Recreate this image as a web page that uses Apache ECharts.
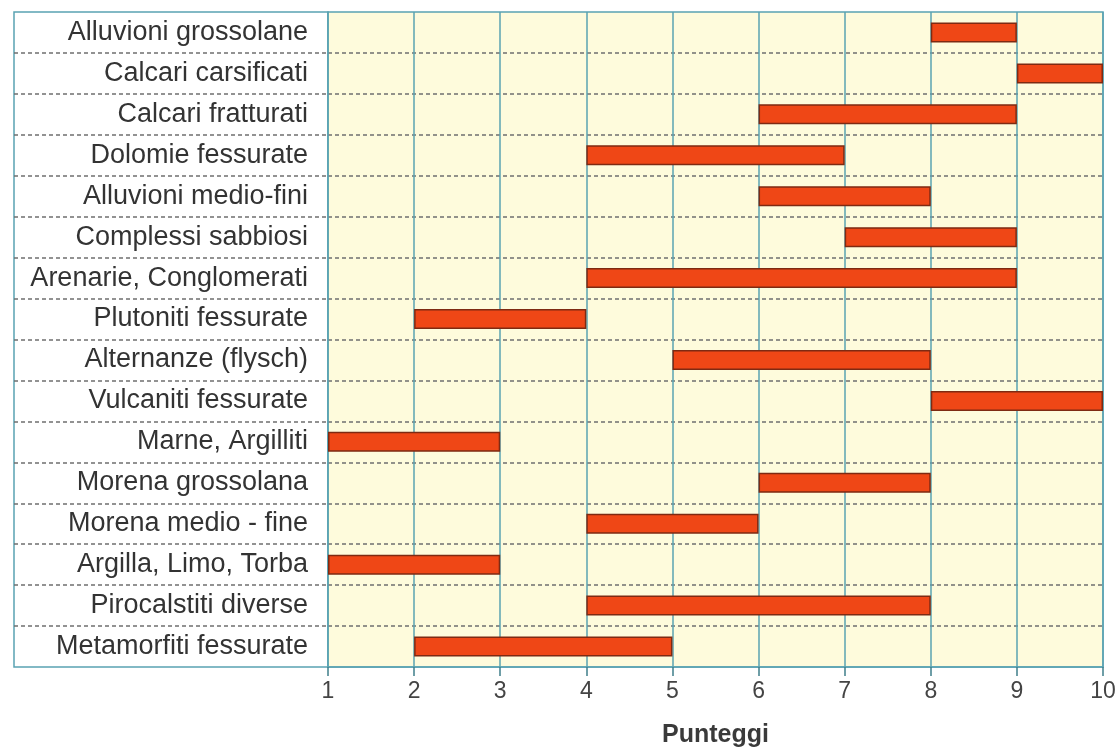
<!DOCTYPE html>
<html>
<head>
<meta charset="utf-8">
<script src="https://cdn.jsdelivr.net/npm/echarts@6/dist/echarts.min.js"></script>
<style>html,body{margin:0;padding:0;background:#fff;}#c{width:1120px;height:749px;}</style>
</head>
<body>
<div id="c"></div>
<script>
const categories = [
  "Alluvioni grossolane","Calcari carsificati","Calcari fratturati","Dolomie fessurate",
  "Alluvioni medio-fini","Complessi sabbiosi","Arenarie, Conglomerati","Plutoniti fessurate",
  "Alternanze (flysch)","Vulcaniti fessurate","Marne, Argilliti","Morena grossolana",
  "Morena medio - fine","Argilla, Limo, Torba","Pirocalstiti diverse","Metamorfiti fessurate"
];
const rangeStart = [8, 9, 6, 4, 6, 7, 4, 2, 5, 8, 1, 6, 4, 1, 4, 2];
const rangeEnd   = [9,10, 9, 7, 8, 9, 9, 4, 8,10, 3, 8, 6, 3, 8, 5];
const xTicks = [1,2,3,4,5,6,7,8,9,10];
const xTitle = "Punteggi";

const teal = '#5aa3b2';
const dash = {color:'#6f6f6f', width:1.5, type:[4,3]};
const chart = echarts.init(document.getElementById('c'));
chart.setOption({
  animation:false,
  grid:[
    {left:14, width:314, top:12, height:655, show:true, outerBoundsMode:'none', containLabel:false,
     backgroundColor:'#ffffff', borderColor:teal, borderWidth:1.5},
    {left:328, width:775, top:12, height:655, show:true, outerBoundsMode:'none', containLabel:false,
     backgroundColor:'#fefbdc', borderColor:teal, borderWidth:1.5}
  ],
  xAxis:[
    {gridIndex:0, type:'value', show:false, min:0, max:1},
    {gridIndex:1, type:'value', min:xTicks[0], max:xTicks[xTicks.length-1], interval:1,
     name:xTitle, nameLocation:'middle', nameGap:56,
     nameTextStyle:{fontFamily:'Liberation Sans', fontWeight:'bold', fontSize:25, color:'#3a3a3a'},
     axisLine:{show:true, lineStyle:{color:teal, width:1.5}},
     axisTick:{show:true, length:9, lineStyle:{color:'#3f7f8a', width:1.5}},
     axisLabel:{margin:13, fontFamily:'Liberation Sans', fontSize:23, color:'#444'},
     splitLine:{show:true, showMinLine:true, showMaxLine:true, lineStyle:{color:teal, width:1.5}}}
  ],
  yAxis:[
    {gridIndex:0, type:'category', data:categories, inverse:true,
     axisLine:{show:false}, axisTick:{show:false}, axisLabel:{show:false},
     splitLine:{show:true, showMinLine:false, showMaxLine:false, lineStyle:dash}},
    {gridIndex:1, type:'category', data:categories, inverse:true,
     axisLine:{show:false}, axisTick:{show:false},
     axisLabel:{margin:20, fontFamily:'Liberation Sans', fontSize:27, color:'#333'},
     splitLine:{show:true, showMinLine:false, showMaxLine:false, lineStyle:dash}}
  ],
  series:[
    {type:'bar', xAxisIndex:1, yAxisIndex:1, stack:'r', barWidth:20, silent:true,
     itemStyle:{color:'rgba(0,0,0,0)'}, data:rangeStart},
    {type:'bar', xAxisIndex:1, yAxisIndex:1, stack:'r', barWidth:20, z:5,
     itemStyle:{color:'#ef4716', borderColor:'#7e2a12', borderWidth:1.5},
     data:rangeEnd.map((e,i)=>e-rangeStart[i])}
  ]
});
</script>
</body>
</html>
